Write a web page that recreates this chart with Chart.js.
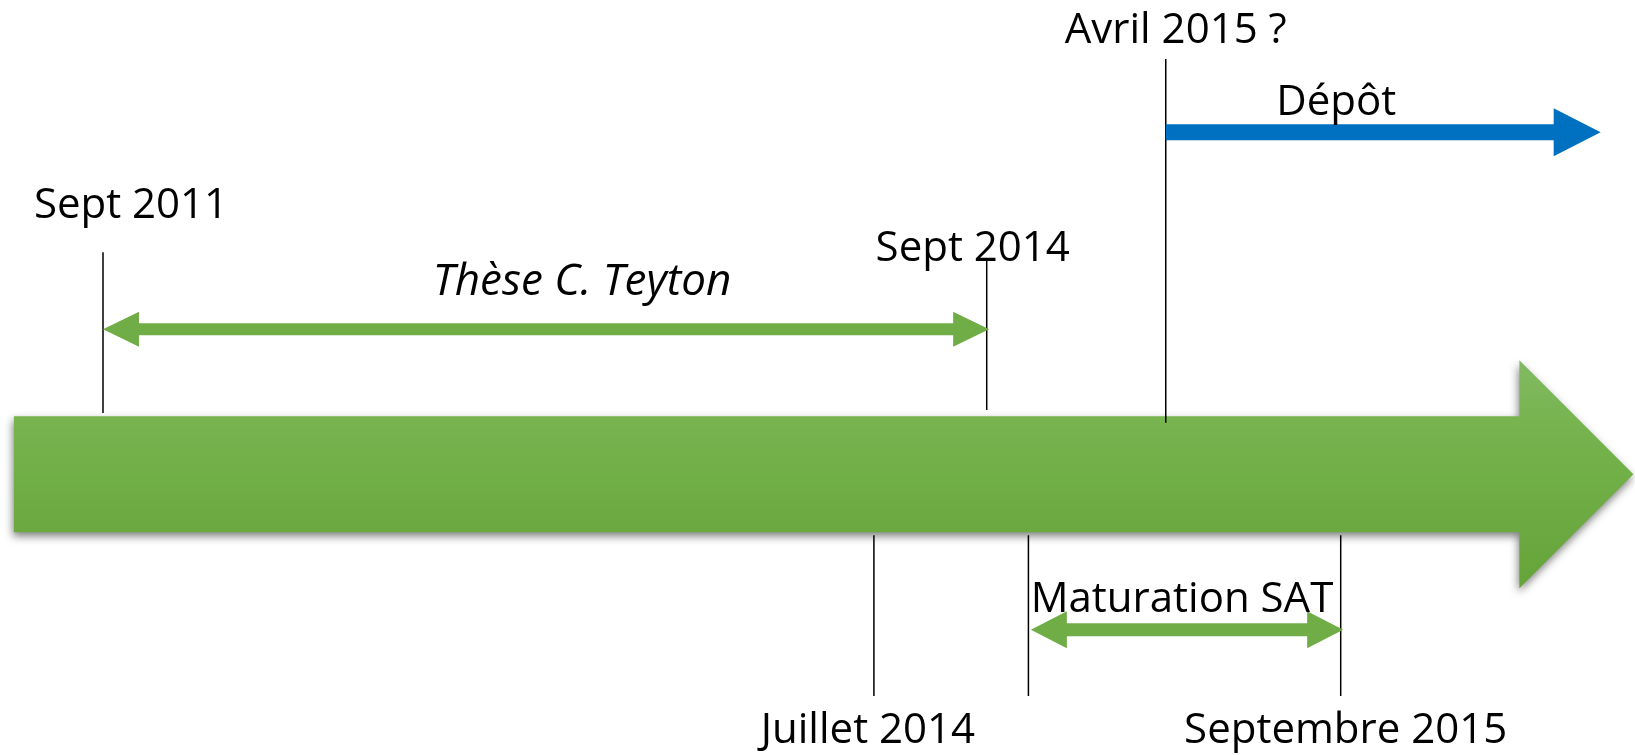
<!DOCTYPE html>
<html>
<head>
<meta charset="utf-8">
<script src="https://cdn.jsdelivr.net/npm/chart.js@4"></script>
<style>
  html, body { margin: 0; padding: 0; background: #fff; }
  #wrap { width: 1635px; height: 755px; }
</style>
</head>
<body>
<div id="wrap"><canvas id="timeline"></canvas></div>
<script>
// positions along the timeline, in % of the width
const events = ['Sept 2011', 'Juillet 2014', 'Sept 2014', '', 'Avril 2015 ?', 'Septembre 2015'];
const eventPos = [6.3, 53.45, 60.35, 62.9, 71.3, 82.0];
const eventSide = ['up', 'down', 'up', 'down', 'up', 'down'];

const spans = ['Thèse C. Teyton', 'Maturation SAT', 'Dépôt'];
const spanFrom = [6.3, 63.05, 71.3];
const spanTo = [60.5, 82.15, 97.9];
const spanHeads = ['both', 'both', 'end'];

const axisStart = 0.85;
const axisEnd = 99.9;

// layout (y in % of the height, 0 = top)
const layout = {
  axisY: 62.8,
  lineTop: { up: [33.4, 34.4, 7.8], down: 70.9 },
  lineBottom: { up: [54.7, 54.3, 56.0], down: 92.2 },
  spanY: [43.6, 83.4, 17.5],
  eventLabel: [[28, -34], [-6, 47], [-14, 1], null, [10, -16], [5, 47]],
  spanLabel: [[36, -34], [-5, -18], [-47, -17]],
  spanStyle: [
    { color: '#70ad47', shaft: 12, head: 36, headH: 35 },
    { color: '#70ad47', shaft: 13, head: 36, headH: 37 },
    { color: '#0070c0', shaft: 16, head: 47, headH: 48 }
  ],
  font: '"Open Sans", "DejaVu Sans", sans-serif',
  fontSize: 42,
  italicSize: 44
};

let upIdx = 0;
const eventLines = events.map((name, i) => {
  let top, bottom;
  if (eventSide[i] === 'up') {
    top = layout.lineTop.up[upIdx];
    bottom = layout.lineBottom.up[upIdx];
    upIdx++;
  } else {
    top = layout.lineTop.down;
    bottom = layout.lineBottom.down;
  }
  return {
    label: name || 'event',
    data: [{ x: eventPos[i], y: top }, { x: eventPos[i], y: bottom }],
    borderColor: '#000',
    borderWidth: 1.5,
    pointRadius: 0,
    order: 1
  };
});

const spanSets = spans.map((name, i) => ({
  label: name,
  data: [{ x: spanFrom[i], y: layout.spanY[i] }, { x: spanTo[i], y: layout.spanY[i] }],
  showLine: false,
  pointRadius: 0,
  span: i
}));

const axisSet = {
  label: 'axe',
  data: [{ x: axisStart, y: layout.axisY }, { x: axisEnd, y: layout.axisY }],
  showLine: false,
  pointRadius: 0,
  mainAxis: true
};

function arrowPath(ctx, x1, x2, y, shaft, head, headH, both) {
  const hs = shaft / 2, hh = headH / 2;
  ctx.beginPath();
  if (both) {
    ctx.moveTo(x1, y);
    ctx.lineTo(x1 + head, y - hh);
    ctx.lineTo(x1 + head, y - hs);
  } else {
    ctx.moveTo(x1, y - hs);
  }
  ctx.lineTo(x2 - head, y - hs);
  ctx.lineTo(x2 - head, y - hh);
  ctx.lineTo(x2, y);
  ctx.lineTo(x2 - head, y + hh);
  ctx.lineTo(x2 - head, y + hs);
  if (both) {
    ctx.lineTo(x1 + head, y + hs);
    ctx.lineTo(x1 + head, y + hh);
  } else {
    ctx.lineTo(x1, y + hs);
  }
  ctx.closePath();
}

const timelinePlugin = {
  id: 'timeline',
  beforeDatasetsDraw(chart) {
    const ctx = chart.ctx;
    chart.data.datasets.forEach((ds, i) => {
      if (!ds.mainAxis) return;
      const pts = chart.getDatasetMeta(i).data;
      const x1 = pts[0].x, x2 = pts[1].x, y = pts[0].y;
      const shaft = 116, head = 114, headH = 228;
      const g = ctx.createLinearGradient(0, y - headH / 2, 0, y + headH / 2);
      g.addColorStop(0, '#82ba64');
      g.addColorStop(0.25, '#78b450');
      g.addColorStop(0.5, '#71af47');
      g.addColorStop(1, '#65a439');
      ctx.save();
      ctx.shadowColor = 'rgba(0,0,0,0.5)';
      ctx.shadowBlur = 9;
      ctx.shadowOffsetX = -1;
      ctx.shadowOffsetY = 4;
      ctx.fillStyle = g;
      ctx.beginPath();
      ctx.moveTo(x1, y - shaft / 2);
      ctx.lineTo(x2 - head, y - shaft / 2);
      ctx.lineTo(x2 - head, y - headH / 2);
      ctx.lineTo(x2, y);
      ctx.lineTo(x2 - head, y + headH / 2);
      ctx.lineTo(x2 - head, y + shaft / 2);
      ctx.lineTo(x1, y + shaft / 2);
      ctx.closePath();
      ctx.fill();
      ctx.restore();
    });
  },
  afterDatasetsDraw(chart) {
    const ctx = chart.ctx;
    ctx.save();
    ctx.textAlign = 'center';
    ctx.textBaseline = 'alphabetic';

    chart.data.datasets.forEach((ds, i) => {
      if (ds.span === undefined) return;
      const s = layout.spanStyle[ds.span];
      const pts = chart.getDatasetMeta(i).data;
      ctx.fillStyle = s.color;
      arrowPath(ctx, pts[0].x, pts[1].x, pts[0].y, s.shaft, s.head, s.headH, spanHeads[ds.span] === 'both');
      ctx.fill();
      const off = layout.spanLabel[ds.span];
      ctx.fillStyle = '#000';
      ctx.font = ds.span === 0
        ? 'italic ' + layout.italicSize + 'px ' + layout.font
        : layout.fontSize + 'px ' + layout.font;
      ctx.fillText(spans[ds.span], (pts[0].x + pts[1].x) / 2 + off[0], pts[0].y + off[1]);
    });

    ctx.font = layout.fontSize + 'px ' + layout.font;
    ctx.fillStyle = '#000';
    events.forEach((name, i) => {
      const off = layout.eventLabel[i];
      if (!name || !off) return;
      const pts = chart.getDatasetMeta(i).data;
      const anchor = eventSide[i] === 'up' ? pts[0] : pts[1];
      ctx.fillText(name, anchor.x + off[0], anchor.y + off[1]);
    });
    ctx.restore();
  }
};

function draw() {
  new Chart(document.getElementById('timeline'), {
    type: 'line',
    data: { datasets: [...eventLines, axisSet, ...spanSets] },
    options: {
      responsive: true,
      maintainAspectRatio: false,
      animation: false,
      layout: { padding: 0 },
      scales: {
        x: { type: 'linear', min: 0, max: 100, display: false },
        y: { type: 'linear', min: 0, max: 100, reverse: true, display: false }
      },
      plugins: {
        legend: { display: false },
        tooltip: { enabled: false }
      }
    },
    plugins: [timelinePlugin]
  });
}

Promise.all([
  document.fonts.load('42px "Open Sans"'),
  document.fonts.load('italic 44px "Open Sans"')
]).then(draw, draw);
</script>
</body>
</html>
